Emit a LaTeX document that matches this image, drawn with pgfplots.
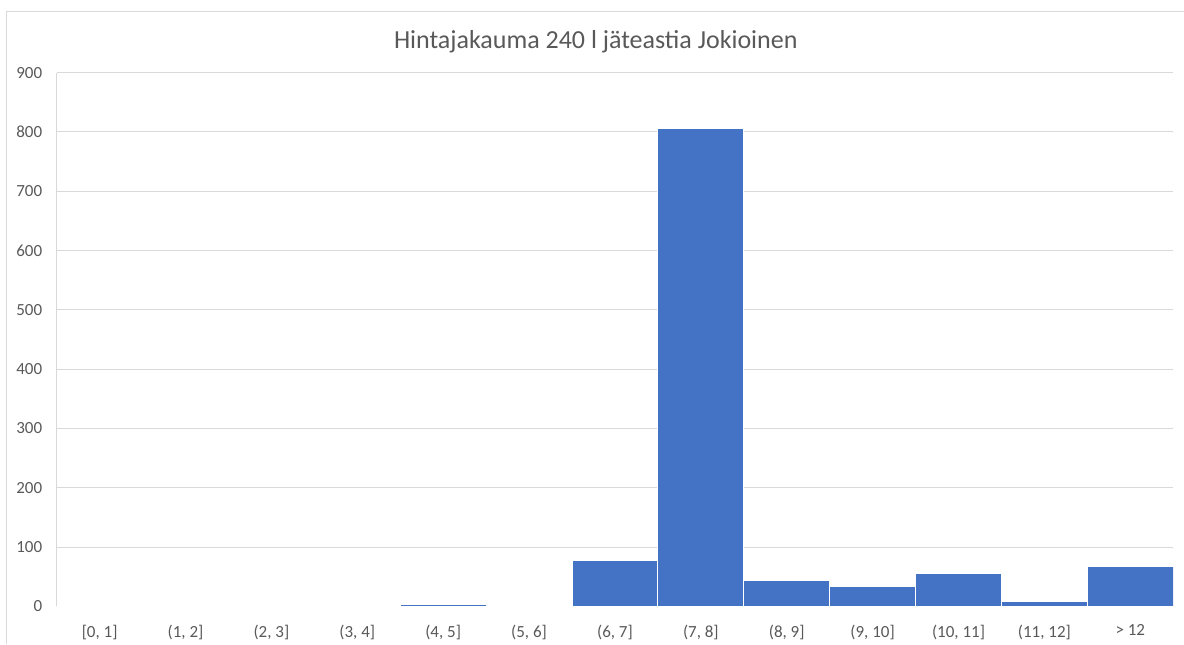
\documentclass[border=0pt]{standalone}
\usepackage{pgfplots}
\pgfplotsset{compat=1.18}
\usepackage{fontspec}
\setmainfont{Carlito}
\definecolor{barblue}{HTML}{4472C4}
\definecolor{gridgray}{HTML}{D9D9D9}
\definecolor{txtgray}{HTML}{595959}
\pgfplotstableread{
x y
0.5 0
1.5 0
2.5 0
3.5 0
4.5 3
5.5 0
6.5 78
7.5 806
8.5 44
9.5 34
10.5 55
11.5 9
12.5 67
}\histdata
\begin{document}
\begin{tikzpicture}[x=1pt,y=1pt]
\path (0,0) rectangle (1184,644);
\draw[gridgray, line width=1pt] (6.5,0) -- (6.5,632) -- (1184,632);
\node[text=txtgray, font=\fontsize{26}{26}\selectfont] at (596,602) {Hintajakauma 240 l jäteastia Jokioinen};
\begin{axis}[at={(66,63)}, anchor=origin, scale only axis,
  width=1117pt, height=534pt,
  ymin=0, ymax=900, ytick={0,100,...,900},
  xmin=0, xmax=13, xtick={0.5,1.5,...,12.5},
  xticklabels={{[0, 1]},{(1, 2]},{(2, 3]},{(3, 4]},{(4, 5]},{(5, 6]},{(6, 7]},{(7, 8]},{(8, 9]},{(9, 10]},{(10, 11]},{(11, 12]},{> 12}},
  axis x line*=bottom, axis y line*=left,
  axis line style={gridgray, line width=1pt, -},
  major tick length=0,
  ymajorgrids, grid style={gridgray, line width=1pt},
  /pgf/number format/assume math mode=true,
  tick label style={text=txtgray, font=\fontsize{17}{17}\selectfont},
  yticklabel style={xshift=-11pt},
  xticklabel style={yshift=-15pt},
  ybar, bar width=1,
]
\addplot[fill=barblue, draw=white, line width=0.8pt] table[x=x,y=y] {\histdata};
\end{axis}
\end{tikzpicture}
\end{document}
